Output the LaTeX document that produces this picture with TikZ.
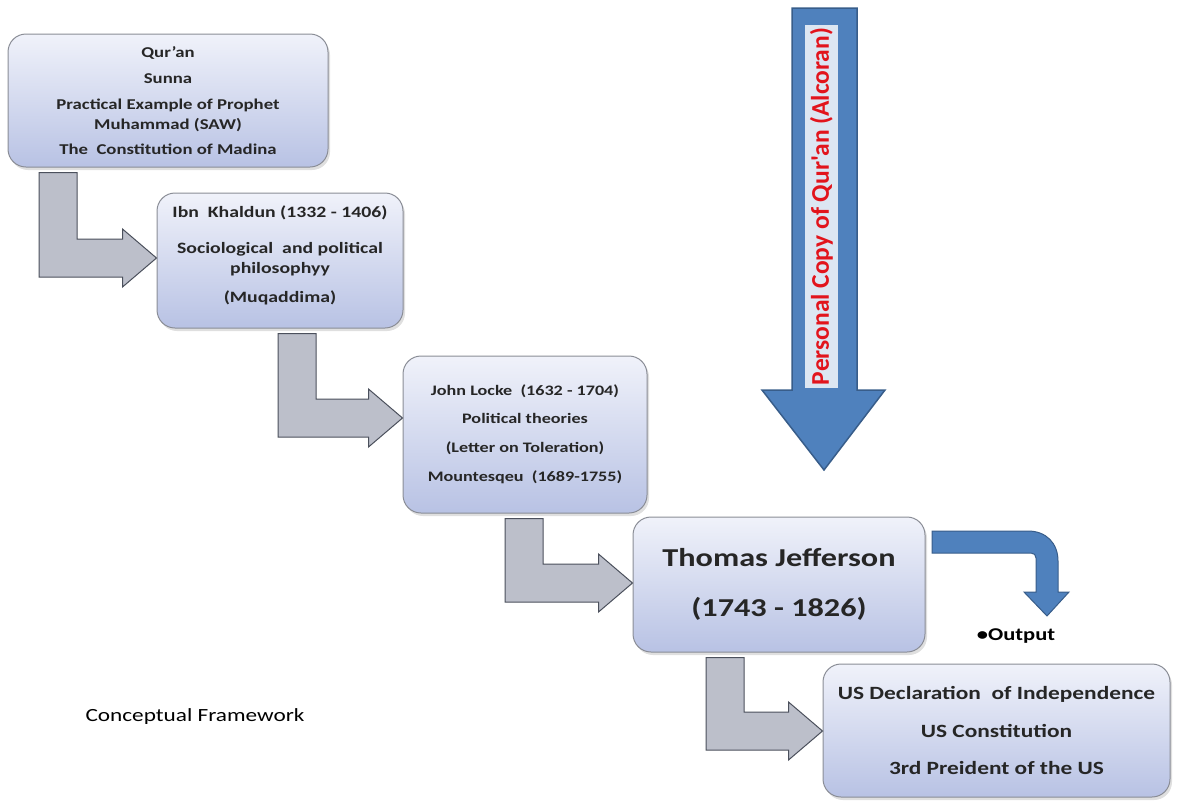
\documentclass[tikz,border=0pt]{standalone}
\usepackage{fontspec}
\setmainfont{Carlito}[FakeStretch=1.25]
\newfontfamily\copyfont{Carlito}
\usetikzlibrary{calc,positioning,shadows}
\definecolor{boxtop}{HTML}{F0F2FA}
\definecolor{boxbottom}{HTML}{B8C2E4}
\definecolor{boxline}{HTML}{8A8D96}
\definecolor{stepfill}{HTML}{BCBFCA}
\definecolor{stepline}{HTML}{4B505C}
\definecolor{arrowblue}{HTML}{4F81BD}
\definecolor{arrowedge}{HTML}{385D8A}
\definecolor{panelblue}{HTML}{DCE6F2}
\definecolor{copyred}{HTML}{E2141C}
\tikzset{
  stage/.style={draw=boxline, line width=1pt, rounded corners=18pt, top color=boxtop, bottom color=boxbottom,
    align=center, text=black!85, inner sep=0pt,
    drop shadow={opacity=0.25, shadow xshift=2pt, shadow yshift=-3pt}},
  steparrow/.style={draw=stepline, line width=1pt, fill=stepfill, line join=miter},
  bluearrow/.style={draw=arrowedge, line width=1.5pt, fill=arrowblue},
}
\begin{document}
\begin{tikzpicture}[x=1pt,y=-1pt]
\useasboundingbox (0,0) rectangle (1183,804);
% stages
\node[stage, minimum width=320pt, minimum height=133pt, font=\bfseries\fontsize{15}{20}\selectfont] (quran) at (168,100.5)
  {Qur'an\\[6pt] Sunna\\[6pt] Practical Example of Prophet\\ Muhammad (SAW)\\[5pt] The\ \ Constitution of Madina};
\node[stage, minimum width=246pt, minimum height=135pt, font=\bfseries\fontsize{15.8}{20}\selectfont] (khaldun) at (280,260.5)
  {Ibn\ \ Khaldun (1332 - 1406)\\[16pt] Sociological\ \ and political\\ philosophyy\\[9pt] (Muqaddima)\\[-8pt]\mbox{}};
\node[stage, minimum width=244pt, minimum height=157pt, font=\bfseries\fontsize{14.5}{20}\selectfont] (locke) at (525,434.5)
  {John Locke\ \ (1632 - 1704)\\[8pt] Political theories\\[9pt] (Letter on Toleration)\\[9pt] Mountesqeu\ \ (1689-1755)};
\node[stage, minimum width=292pt, minimum height=135pt, font=\bfseries\fontsize{25.8}{50}\selectfont] (tj) at (779,584.5)
  {Thomas Jefferson\\ (1743 - 1826)};
\node[stage, minimum width=347pt, minimum height=133pt, font=\bfseries\fontsize{18.7}{37.5}\selectfont] (us) at (996.5,730.5)
  {US Declaration\ \ of Independence\\ US Constitution\\ 3rd Preident of the US};
% step arrows
\foreach \from/\to/\x/\y in {quran/khaldun/58/258, khaldun/locke/297/418, locke/tj/524/583, tj/us/725/731}{
  \coordinate (m) at (\x,\y);
  \draw[steparrow] ($(\from.south -| m)+(-19,5)$) -- ($(m)+(-19,19)$) -- ($(\to.west |- m)+(-34,19)$)
    -- ($(\to.west |- m)+(-34,29)$) -- (\to.west |- m) -- ($(\to.west |- m)+(-34,-29)$)
    -- ($(\to.west |- m)+(-34,-19)$) -- ($(m)+(19,-19)$) -- ($(\from.south -| m)+(19,5)$) -- cycle;
}
% personal copy arrow
\draw[bluearrow] (792,8) -- (857,8) -- (857,390) -- (885,390) -- (824,470) -- (762,390) -- (792,390) -- cycle;
\node[rotate=90, fill=panelblue, minimum width=363pt, minimum height=33pt, inner sep=0pt, text=copyred,
  font=\copyfont\bfseries\fontsize{25.5}{26}\selectfont] (qcopy) at (821.5,206.5) {Personal Copy of Qur'an (Alcoran)};
% output
\draw[bluearrow, line width=1pt] (932,531) -- (1028,531) .. controls (1046,531) and (1058,543) .. (1058,561)
  -- (1058,592) -- (1069,592) -- (1047,616) -- (1024,592) -- (1036,592) -- (1036,558)
  .. controls (1036,555) and (1034,553) .. (1031,553) -- (932,553) -- cycle;
\node[font=\bfseries\fontsize{18}{20}\selectfont] (output) at (1016,636) {\textbullet Output};
\node[font=\fontsize{18.6}{20}\selectfont] (caption) at (195,717) {Conceptual Framework};
\end{tikzpicture}
\end{document}
